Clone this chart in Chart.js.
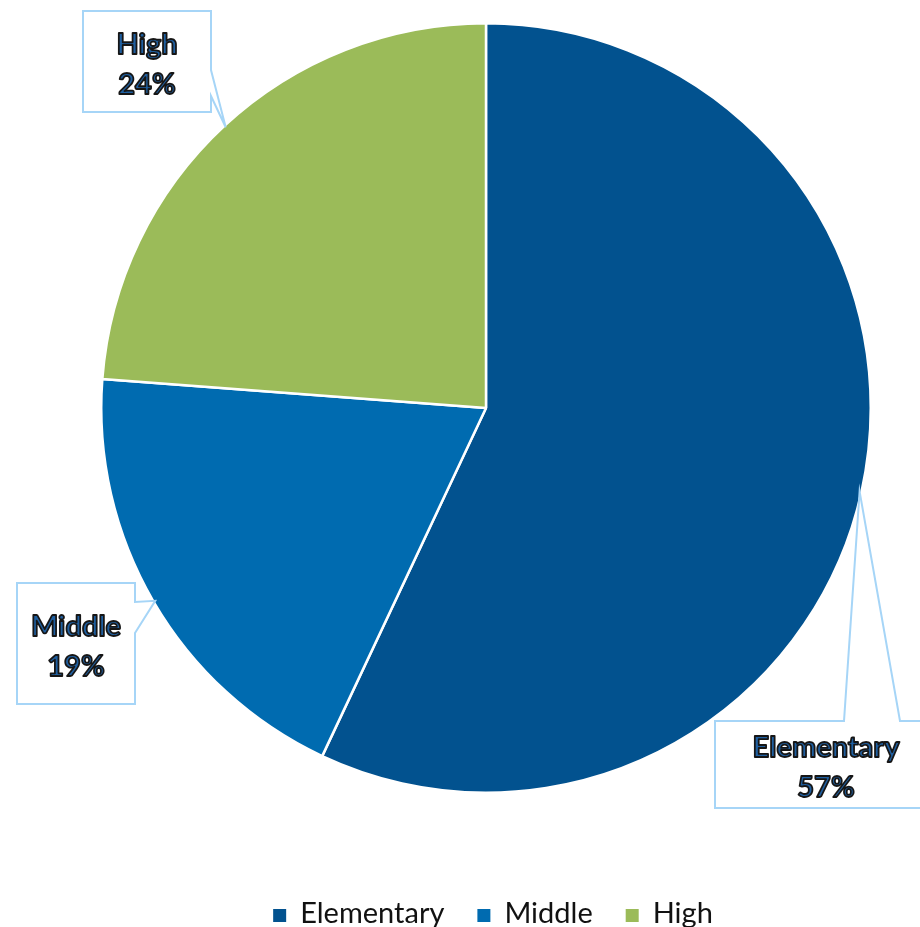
<!DOCTYPE html>
<html><head><meta charset="utf-8">
<script src="https://cdn.jsdelivr.net/npm/chart.js@4.4.0/dist/chart.umd.min.js"></script>
<style>html,body{margin:0;padding:0;background:#fff}#wrap{width:920px;height:927px;position:relative}</style>
</head><body><div id="wrap"><canvas id="c"></canvas></div>
<script>
const categories = ['Elementary', 'Middle', 'High'];
const shares = [57.0, 19.2, 23.8];
const percentLabels = ['57%', '19%', '24%'];
const colors = ['#02528F', '#006BB0', '#9BBB59'];

// callout box geometry relative to pie centre (style only)
const calloutStyle = [
  {l: 229, t: 313, r: 451, b: 400, side: 'top', p1: 358, p2: 414},
  {l: -469, t: 175, r: -351, b: 296, side: 'right', p1: 194, p2: 225},
  {l: -403, t: -397, r: -275, b: -296, side: 'right', p1: -338, p2: -312}
];

const calloutPlugin = {
  id: 'callouts',
  afterDatasetsDraw(chart) {
    const ctx = chart.ctx;
    const meta = chart.getDatasetMeta(0);
    meta.data.forEach((arc, i) => {
      const p = arc.getProps(['x', 'y', 'startAngle', 'endAngle', 'outerRadius'], true);
      const mid = (p.startAngle + p.endAngle) / 2;
      const tx = p.x + Math.cos(mid) * p.outerRadius * 0.995;
      const ty = p.y + Math.sin(mid) * p.outerRadius * 0.995;
      const s = calloutStyle[i];
      const L = p.x + s.l, T = p.y + s.t, R = p.x + s.r, B = p.y + s.b;
      ctx.save();
      ctx.beginPath();
      if (s.side === 'top') {
        ctx.moveTo(L, T);
        ctx.lineTo(p.x + s.p1, T);
        ctx.lineTo(tx, ty);
        ctx.lineTo(p.x + s.p2, T);
        ctx.lineTo(R, T);
        ctx.lineTo(R, B);
        ctx.lineTo(L, B);
      } else {
        ctx.moveTo(L, T);
        ctx.lineTo(R, T);
        ctx.lineTo(R, p.y + s.p1);
        ctx.lineTo(tx, ty);
        ctx.lineTo(R, p.y + s.p2);
        ctx.lineTo(R, B);
        ctx.lineTo(L, B);
      }
      ctx.closePath();
      ctx.fillStyle = '#ffffff';
      ctx.fill();
      ctx.lineWidth = 2;
      ctx.strokeStyle = '#A6D5F7';
      ctx.lineJoin = 'miter';
      ctx.stroke();
      const cx = (L + R) / 2, cy = (T + B) / 2;
      ctx.font = 'bold 29px Lato';
      ctx.textAlign = 'center';
      ctx.textBaseline = 'alphabetic';
      ctx.lineJoin = 'round';
      [[categories[i], cy - 8], [percentLabels[i], cy + 32.5]].forEach(([txt, y]) => {
        ctx.fillStyle = '#1f5fa0';
        ctx.fillText(txt, cx, y);
        ctx.lineWidth = 1.8;
        ctx.strokeStyle = '#161616';
        ctx.strokeText(txt, cx, y);
      });
      ctx.restore();
    });
  }
};

const legendPlugin = {
  id: 'customLegend',
  afterDraw(chart) {
    const ctx = chart.ctx;
    ctx.save();
    ctx.font = '29px Lato';
    const box = 13, gapBT = 14, gapItems = 33;
    const widths = categories.map(c => ctx.measureText(c).width);
    const total = widths.reduce((a, w) => a + box + gapBT + w, 0) + gapItems * (categories.length - 1);
    const ca = chart.chartArea;
    let x = (ca.left + ca.right) / 2 + 7 - total / 2;
    const base = 923;
    ctx.textBaseline = 'alphabetic';
    ctx.textAlign = 'left';
    categories.forEach((c, i) => {
      ctx.fillStyle = colors[i];
      ctx.fillRect(x, base - 14, box, box);
      ctx.fillStyle = '#111111';
      ctx.fillText(c, x + box + gapBT, base);
      x += box + gapBT + widths[i] + gapItems;
    });
    ctx.restore();
  }
};

new Chart(document.getElementById('c'), {
  type: 'pie',
  data: {
    labels: categories,
    datasets: [{
      data: shares,
      backgroundColor: colors,
      borderColor: '#ffffff',
      borderWidth: 2.5
    }]
  },
  options: {
    responsive: true,
    maintainAspectRatio: false,
    animation: false,
    devicePixelRatio: 1,
    layout: {padding: {top: 22, bottom: 133, left: 100, right: 48}},
    plugins: {
      legend: {display: false},
      tooltip: {enabled: false}
    }
  },
  plugins: [calloutPlugin, legendPlugin]
});
</script>
</body></html>
